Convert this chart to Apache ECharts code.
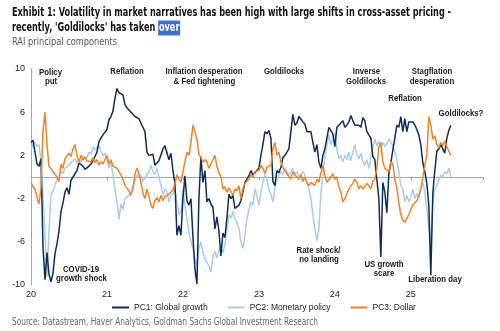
<!DOCTYPE html>
<html><head><meta charset="utf-8">
<script src="https://cdn.jsdelivr.net/npm/echarts@6/dist/echarts.min.js"></script>
<style>html,body{margin:0;padding:0;background:#fff}#c{width:500px;height:331px}</style>
</head><body><div id="c"></div>
<script>
// ---------------- DATA ----------------
const START_YEAR = 2020;
const STEP_YEARS = 1 / 38;      // sampling step (~9.6 days)
const yearTicks = [2020, 2021, 2022, 2023, 2024, 2025];
const yTicks = [-10, -6, -2, 2, 6, 10];
const seriesNames = ['PC1: Global growth', 'PC2: Monetary policy', 'PC3: Dollar'];

const pc1 = [
 3.2, 3.4, 3.3, 1.2, 1.0, 1.7, -6.5, -9.5, -7.0, -9.0,
 -9.7, -8.9, -7.1, -6.2, -5.0, -3.2, -2.4, -1.4, -1.0, -1.6,
 -0.3, -0.2, 0.3, 0.6, 1.3, 1.2, 1.0, 0.7, 0.6, 1.0,
 1.2, 1.5, 1.9, 2.3, 3.3, 3.6, 3.9, 4.0, 4.4, 5.3,
 5.6, 6.1, 7.3, 8.2, 7.8, 7.9, 7.6, 6.7, 6.4, 6.2,
 6.1, 5.8, 5.6, 5.5, 5.4, 5.0, 4.9, 4.2, 2.3, 2.0,
 1.9, 2.1, 1.1, 1.3, 1.5, 1.6, 2.6, 2.9, 3.0, 1.6,
 2.2, 0.6, -0.6, -5.4, -4.5, -5.4, -2.0, 0.1, -2.2, -2.6,
 -2.0, -5.5, -8.5, -9.9, -2.0, 1.9, -0.5, 0.6, -2.3, -2.0,
 -2.5, -2.8, -4.8, -3.7, -5.0, -7.3, -5.2, -5.6, -3.8, -1.6,
 -2.0, -1.7, -2.9, -3.0, -2.6, -2.2, -1.4, -0.5, -0.6, 0.1,
 0.6, 0.2, 0.4, 0.3, 0.8, 2.0, 3.0, 4.2, 4.0, 4.3,
 3.6, -0.4, -0.8, 0.6, 0.4, 0.9, 1.8, 2.0, 2.0, 2.6,
 4.2, 5.8, 4.8, 5.0, 5.6, 5.7, 5.1, 4.9, 4.2, 4.3,
 4.2, 3.2, 2.3, 3.0, 1.4, 0.8, 2.0, 2.6, 3.6, 4.6,
 4.3, 4.0, 2.8, 4.6, 4.8, 5.0, 5.2, 4.6, 4.8, 5.1,
 5.7, 5.2, 4.8, 4.7, 4.8, 4.6, 5.5, 5.2, 4.2, 3.9,
 3.6, 1.9, 1.6, 1.5, -2.0, -7.4, -0.5, -1.4, -3.3, 0.3,
 1.3, 2.5, 3.6, 4.8, 4.6, 5.6, 4.2, 5.4, 4.2, 5.1,
 5.0, 5.1, 4.8, 4.4, 3.9, 3.0, 1.3, 0.5, -0.6, -2.6,
 -9.1, -1.5, 0.6, 2.4, 2.6, 3.0, 2.6, 2.2, 3.6, 4.3, 4.8
];
const pc2 = [
 2.6, 3.0, 3.2, 2.8, 3.0, 1.5, -1.8, -5.5, -9.2, -5.0,
 -1.6, -1.3, -0.8, -0.2, 0.0, 0.5, 0.3, 0.8, 0.7, 1.1,
 1.0, 1.5, 1.7, 1.3, 1.6, 1.4, 1.9, 2.0, 1.8, 2.3,
 2.1, 2.8, 2.5, 2.7, 2.9, 2.4, 2.0, 2.2, 1.7, 0.8,
 1.4, 0.2, -1.1, -2.3, -3.9, -2.5, -3.0, -2.0, -2.0, -1.7,
 -1.4, -0.8, -0.4, 0.2, -0.1, 0.2, -0.4, -0.5, 0.2, 0.5,
 1.1, 0.5, 0.2, 0.8, 0.0, -0.8, -1.7, -1.1, -1.4, -2.3,
 -1.7, -1.5, -1.1, -2.3, -3.5, -3.2, -1.1, -2.6, -3.9, -5.1,
 -6.0, -6.6, -7.6, -8.2, -6.6, -6.0, -7.0, -7.6, -7.9, -8.2,
 -8.8, -7.3, -6.9, -7.5, -6.8, -6.6, -7.0, -6.3, -4.8, -3.5,
 -3.8, -3.2, -3.9, -4.2, -4.8, -6.0, -6.6, -5.4, -3.9, -3.0,
 -2.3, -2.6, -1.1, -1.7, -2.6, -1.4, -0.5, 0.2, -0.2, -1.1,
 -1.6, -2.3, -1.1, -0.2, 0.2, 0.5, 0.2, 0.8, 0.5, 0.2,
 0.5, 0.8, 0.2, 0.5, 0.0, 0.2, 0.5, 0.2, -0.5, -1.1,
 -2.0, -3.5, -4.8, -5.9, -4.8, -1.5, 0.2, 2.0, 2.9, 3.9,
 3.0, 3.5, 4.0, 2.6, 1.7, 2.0, 1.4, 2.0, 1.6, 2.3,
 1.5, 2.3, 3.0, 2.0, 1.7, 2.2, 1.4, 1.1, 1.6, 0.8,
 1.8, 2.8, 3.5, 2.9, 3.3, 2.7, 3.2, 2.8, 3.1, 3.5,
 3.2, 2.9, 2.3, 1.7, 0.5, -0.8, -1.1, -2.3, -1.7, -2.3,
 -1.9, -1.1, -2.0, -1.5, -1.9, -1.2, -0.5, -1.4, -2.9, -4.8,
 -6.5, -2.3, -1.1, -0.8, -0.3, 0.2, 0.0, 0.5, 0.3, 0.8, 0.0
];
const pc3 = [
 -0.5, -0.9, -1.1, -1.9, -2.5, -1.0, 4.2, 6.0, 3.0, 1.0,
 1.1, 0.5, 0.4, 0.0, -0.4, 1.2, 0.8, 1.7, 1.8, 2.2,
 1.9, 2.6, 3.0, 2.0, 1.4, 2.0, 1.6, 1.8, 1.5, 1.6,
 1.4, 1.8, 1.3, 1.6, 1.1, 1.4, 1.2, 1.6, 2.0, 1.2,
 1.6, 1.0, 0.9, 0.8, 0.5, 0.2, -0.2, -0.8, -0.9, -1.3,
 -1.7, -1.1, 0.3, 0.8, 0.3, -0.5, -1.5, -2.0, -1.1, -1.8,
 -2.6, -2.9, -2.2, -1.9, -2.3, -1.7, -2.2, -1.8, -1.9, -1.6,
 -1.4, -1.2, -0.6, 0.2, -0.2, -0.5, 0.5, 1.4, 2.3, 2.0,
 3.2, 4.8, 4.7, 3.5, 2.1, 1.8, 1.4, 1.6, 1.4, 0.8,
 1.2, 1.6, 2.0, 1.0, 0.4, 0.0, -1.1, -0.9, -1.4, -1.0,
 -0.9, -1.7, -1.1, -1.3, -0.8, -2.0, -1.1, -0.6, -0.5, -0.2,
 0.2, 0.0, 0.5, 0.4, 0.6, 1.1, 0.8, 0.3, 0.9, 0.8,
 1.1, 2.6, 3.2, 2.0, 2.3, 1.4, 0.9, 0.6, 0.3, 0.2,
 -0.2, 0.5, 0.2, 0.0, -0.2, 0.2, -0.4, 0.0, -0.5, -0.8,
 -0.5, -0.5, -0.8, -0.2, -0.5, 0.4, 1.1, 0.2, -0.5, -0.6,
 0.0, 0.3, -0.2, 0.0, -0.9, -1.4, -2.3, -2.0, -1.6, -1.1,
 -0.8, -0.6, -0.2, -0.5, -1.1, -0.8, -1.1, -0.9, -0.6, -0.8,
 -1.1, -0.4, -0.2, 0.8, 2.8, 3.2, 1.4, 0.8, 0.8, 0.5,
 1.4, 1.2, -0.2, -1.0, -2.4, -3.5, -4.0, -4.2, -3.8, -3.5,
 -3.0, -2.6, -2.5, -2.2, -1.7, -1.1, 0.0, 1.1, 2.0, 5.6,
 4.8, 3.5, 3.8, 3.0, 2.7, 3.2, 2.9, 3.3, 2.8, 2.4, 2.0
];

// Annotation texts
const annotationLines = [
 ['Policy', 50.5, 72.5], ['put', 51, 81.5],
 ['Reflation', 127, 72],
 ['Inflation desperation', 204, 72], ['& Fed tightening', 204.5, 81.5],
 ['Goldilocks', 284, 72],
 ['Inverse', 366.5, 72], ['Goldilocks', 366, 81.5],
 ['Stagflation', 432, 72], ['desperation', 432, 81.5],
 ['Reflation', 405, 98.5],
 ['Goldilocks?', 461, 114],
 ['COVID-19', 81, 269.5], ['growth shock', 81.5, 278.5],
 ['Rate shock/', 318.5, 251], ['no landing', 319, 260],
 ['US growth', 384, 265], ['scare', 384, 274],
 ['Liberation day', 435, 280]
];

// ---------------- LAYOUT / STYLE ----------------
const COND = '"DejaVu Sans Condensed","Liberation Sans Narrow",sans-serif';
const ARIAL = '"Liberation Sans",Arial,sans-serif';
const colors = ['#0f2d5a', '#a8cdec', '#f58220'];
const cv = document.createElement('canvas').getContext('2d');
function measure(text, font) { cv.font = font; return cv.measureText(text).width; }

const toPairs = arr => arr.map((v, i) => [START_YEAR + i * STEP_YEARS, v]);

const titleFont = 'bold 12.5px ' + COND;
const t1 = 'Exhibit 1: Volatility in market narratives has been high with large shifts in cross-asset pricing -';
const t1Scale = 439 / measure(t1, titleFont);
const subFont = '10.5px ' + COND;
const subText = 'RAI principal components';
const subScale = 105 / measure(subText, subFont);
const srcFont = '10.5px ' + COND;
const srcText = 'Source: Datastream, Haver Analytics, Goldman Sachs Global Investment Research';
const srcScale = 306 / measure(srcText, srcFont);
const annFont = 'bold 8.5px ' + ARIAL;
const annScale = 77 / measure('Inflation desperation', annFont);

const graphics = [
 { type: 'text', x: 12, y: 13, scaleX: t1Scale, style: { text: t1, font: titleFont, fill: '#111', textVerticalAlign: 'middle' } },
 { type: 'text', x: 12, y: 28, scaleX: t1Scale, style: {
   text: "recently, 'Goldilocks' has taken {hl|over}", font: titleFont, fill: '#111', textVerticalAlign: 'middle',
   rich: { hl: { font: titleFont, fill: '#fff', color: '#fff', backgroundColor: '#3b6fd4', padding: [1, 1, 1, 1] } } } },
 { type: 'text', x: 12, y: 42, scaleX: subScale, style: { text: subText, font: subFont, fill: '#555', textVerticalAlign: 'middle' } },
 { type: 'text', x: 12, y: 322, scaleX: srcScale, style: { text: srcText, font: srcFont, fill: '#666', textVerticalAlign: 'middle' } }
];
annotationLines.forEach(([txt, cx, cy]) => {
  graphics.push({ type: 'text', x: cx, y: cy, scaleX: annScale, z: 100,
    style: { text: txt, font: annFont, fill: '#1a1a1a', textAlign: 'center', textVerticalAlign: 'middle' } });
});

const chart = echarts.init(document.getElementById('c'), null, { renderer: 'canvas' });
chart.setOption({
  animation: false,
  backgroundColor: '#fff',
  grid: { left: 31, right: 17, top: 69, bottom: 46 },
  legend: {
    left: 107, top: 298, icon: 'rect', itemWidth: 17, itemHeight: 2, itemGap: 20,
    textStyle: { fontFamily: ARIAL, fontSize: 8.5, color: '#222' },
    data: seriesNames
  },
  xAxis: [
    { type: 'value', min: yearTicks[0], max: 2025.95, interval: 1, position: 'bottom',
      axisLine: { onZero: true, lineStyle: { color: '#a6a6a6', width: 1 } },
      axisTick: { show: true, length: 3, lineStyle: { color: '#a6a6a6' } },
      axisLabel: { show: false }, splitLine: { show: false } },
    { type: 'value', min: yearTicks[0], max: 2025.95, interval: 1, position: 'bottom',
      axisLine: { show: false, onZero: false }, axisTick: { show: false }, splitLine: { show: false },
      axisLabel: { margin: 5, fontFamily: ARIAL, fontSize: 9, color: '#222',
        formatter: v => yearTicks.includes(v) ? String(v - 2000) : '' } }
  ],
  yAxis: { type: 'value', min: yTicks[0], max: yTicks[yTicks.length - 1], interval: 4,
    axisLine: { show: true, lineStyle: { color: '#a6a6a6' } }, axisTick: { show: false },
    splitLine: { show: false },
    axisLabel: { margin: 6, fontFamily: ARIAL, fontSize: 9, color: '#222' } },
  graphic: graphics,
  series: [
    { name: seriesNames[0], type: 'line', data: toPairs(pc1), showSymbol: false, z: 3,
      lineStyle: { color: colors[0], width: 1.5 }, itemStyle: { color: colors[0] } },
    { name: seriesNames[1], type: 'line', data: toPairs(pc2), showSymbol: false, z: 2,
      lineStyle: { color: colors[1], width: 1.5 }, itemStyle: { color: colors[1] } },
    { name: seriesNames[2], type: 'line', data: toPairs(pc3), showSymbol: false, z: 4,
      lineStyle: { color: colors[2], width: 1.5 }, itemStyle: { color: colors[2] } }
  ]
});
</script></body></html>
